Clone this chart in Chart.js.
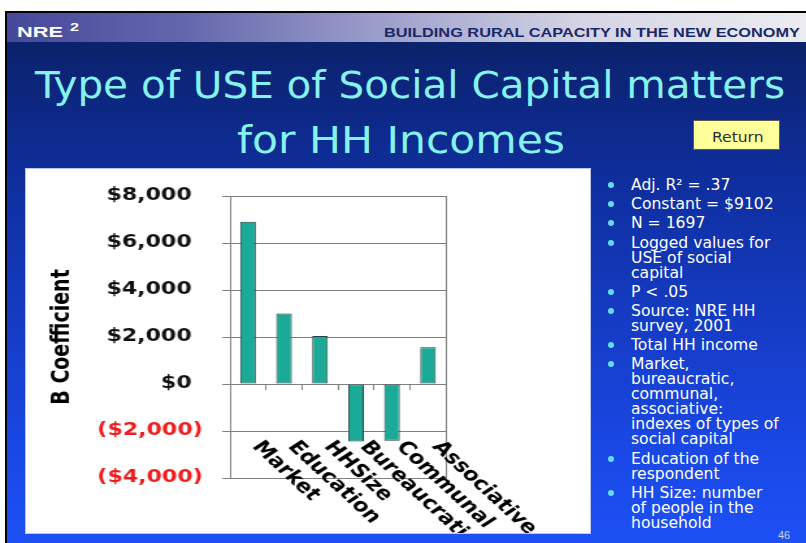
<!DOCTYPE html>
<html>
<head>
<meta charset="utf-8">
<script src="https://cdn.jsdelivr.net/npm/chart.js@4.4.1/dist/chart.umd.min.js"></script>
<style>
html,body{margin:0;padding:0;width:806px;height:543px;overflow:hidden;background:#fff;}
.abs{position:absolute;white-space:nowrap;line-height:1;}
.fit{display:inline-block;transform-origin:0 0;}
#slide{position:absolute;left:5px;top:11px;width:801px;height:532px;border-top:2px solid #000;border-left:2px solid #000;
  background:linear-gradient(180deg,#0b226c 0px,#0b226c 31px,#0f2fa0 175px,#1a48e6 440px,#1d50f5 532px);}
#band{position:absolute;left:7px;top:13px;width:799px;height:29px;
  background:linear-gradient(90deg,#46489a 0%,#6466ad 22%,#9fa1cc 48%,#d4d4e4 72%,#ececf2 100%);}
#nre{left:17px;top:23.8px;font:bold 14.4px "Liberation Sans";color:#fff;}
#sup{left:70px;top:20.6px;font:bold 10.5px "Liberation Sans";color:#fff;}
#tag{left:384px;top:25.9px;font:bold 12px "Liberation Sans";color:#1a2868;}
.title{font:37px "DejaVu Sans";color:#86f2ee;}
#t1{left:35px;top:63.7px;}
#t2{left:237px;top:118.7px;}
#ret{position:absolute;left:693px;top:120px;width:87px;height:30px;box-sizing:border-box;background:#ffff99;border:1px solid #5a5a50;}
#rett{left:712px;top:127.6px;font:14.7px "DejaVu Sans";color:#2e2e2e;}
#panel{position:absolute;left:26px;top:169px;width:564px;height:364px;background:#fff;box-shadow:0 0 0 1px #b8c8ee;}
#cw{position:absolute;left:26px;top:170px;width:434px;height:363px;transform:scaleX(1.2995);transform-origin:0 0;}
#notes{position:absolute;left:631px;top:178px;font:15.6px "DejaVu Sans";line-height:15px;color:#fff;white-space:nowrap;}
#notes .it{position:relative;margin-top:4.2px;}
#notes .it:first-child{margin-top:0;}
#notes .it::before{content:"";position:absolute;left:-23px;top:4px;width:6px;height:6px;border-radius:50%;background:#62dcef;}
#pg{left:778px;top:528.7px;font:11px "Liberation Sans";color:#c8d4ee;}
</style>
</head>
<body>
<div id="slide"></div>
<div id="band"></div>
<div class="abs fit" id="nre" data-w="46">NRE</div>
<div class="abs fit" id="sup" data-w="9">2</div>
<div class="abs fit" id="tag" data-w="416">BUILDING RURAL CAPACITY IN THE NEW ECONOMY</div>
<div class="abs fit title" id="t1" data-w="750">Type of USE of Social Capital matters</div>
<div class="abs fit title" id="t2" data-w="328">for HH Incomes</div>
<div id="ret"></div>
<div class="abs fit" id="rett" data-w="51.6">Return</div>
<div id="panel"></div>
<div id="cw"><canvas id="c"></canvas></div>
<div id="notes">
  <div class="it">Adj. R² = .37</div>
  <div class="it">Constant = $9102</div>
  <div class="it">N = 1697</div>
  <div class="it">Logged values for<br>USE of social<br>capital</div>
  <div class="it">P &lt; .05</div>
  <div class="it">Source: NRE HH<br>survey, 2001</div>
  <div class="it">Total HH income</div>
  <div class="it">Market,<br>bureaucratic,<br>communal,<br>associative:<br>indexes of types of<br>social capital</div>
  <div class="it">Education of the<br>respondent</div>
  <div class="it">HH Size: number<br>of people in the<br>household</div>
</div>
<div class="abs" id="pg">46</div>
<script>
// ---- data ----
const categories = ['Market', 'Education', 'HHSize', 'Bureaucratic', 'Communal', 'Associative'];
const coefficients = [6900, 3000, 2040, -2450, -2410, 1560];
const tickValues = [-4000, -2000, 0, 2000, 4000, 6000, 8000];
const tickLabels = ['($4,000)', '($2,000)', '$0', '$2,000', '$4,000', '$6,000', '$8,000'];
const axisTitle = 'B Coefficient';

// fit stretched text to measured widths
document.querySelectorAll('[data-w]').forEach(el => {
  const w = parseFloat(el.dataset.w);
  const nat = el.getBoundingClientRect().width;
  el.style.transform = 'scaleX(' + (w / nat) + ')';
});

const GRID = '#7f7f7f';
const FONT = '"DejaVu Sans"';

const xLabelPlugin = {
  id: 'xlabels',
  afterDraw(chart) {
    const {ctx, scales: {x}, chartArea} = chart;
    ctx.save();
    ctx.font = 'bold 18px ' + FONT;
    ctx.fillStyle = '#000';
    ctx.textAlign = 'left';
    ctx.textBaseline = 'top';
    categories.forEach((c, i) => {
      const px = x.getPixelForTick(i) + 13;
      const py = chartArea.bottom - 40;
      ctx.save();
      ctx.translate(px, py);
      ctx.rotate(50 * Math.PI / 180);
      ctx.fillText(c, 0, 0);
      ctx.restore();
    });
    ctx.restore();
  }
};

new Chart(document.getElementById('c'), {
  type: 'bar',
  data: {
    labels: categories,
    datasets: [{
      data: coefficients,
      backgroundColor: '#1aaa97',
      borderColor: '#24403c',
      borderWidth: 1,
      borderSkipped: false,
      barPercentage: 0.435,
      categoryPercentage: 1
    }]
  },
  options: {
    responsive: true,
    maintainAspectRatio: false,
    animation: false,
    devicePixelRatio: 1,
    layout: {padding: {left: 13, right: 110.8, top: 26, bottom: 55}},
    plugins: {legend: {display: false}, tooltip: {enabled: false}},
    scales: {
      x: {
        type: 'category',
        position: {y: 0},
        offset: true,
        grid: {offset: true, drawOnChartArea: false, drawTicks: true, tickLength: 6, color: GRID},
        border: {display: false},
        ticks: {display: false}
      },
      y: {
        min: -4000, max: 8000,
        afterFit: s => { s.width = 144; },
        ticks: {
          stepSize: 2000,
          padding: 15,
          font: {family: FONT, size: 17, weight: 'bold'},
          color: ctx => (ctx.tick && ctx.tick.value < 0) ? '#ee1c1c' : '#111',
          callback: v => {
            const i = tickValues.indexOf(v);
            if (i < 0) return '';
            return v < 0 ? tickLabels[i] : tickLabels[i] + '\u2002';
          }
        },
        grid: {color: GRID, tickLength: 6, drawTicks: true},
        border: {display: true, color: GRID},
        title: {display: true, text: axisTitle, color: '#000',
          font: {family: FONT, size: 19, weight: 'bold'}, padding: {top: 4, bottom: 0}}
      },
      y2: {
        type: 'linear',
        position: 'right',
        display: true,
        grid: {display: false, drawTicks: false},
        ticks: {display: false},
        border: {display: true, color: GRID}
      }
    }
  },
  plugins: [xLabelPlugin]
});
</script>
</body>
</html>
